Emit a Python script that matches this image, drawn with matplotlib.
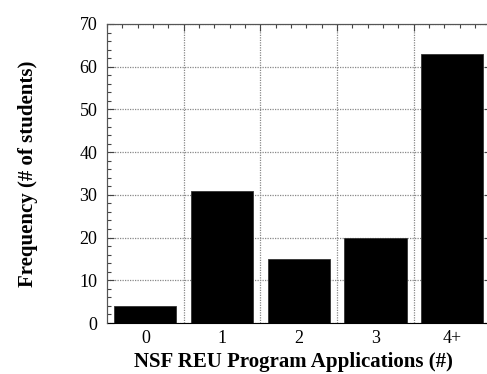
import matplotlib.pyplot as plt
from matplotlib.ticker import MultipleLocator, FixedLocator

# applications submitted per student
categories = ["0", "1", "2", "3", "4+"]
counts = [4, 31, 15, 20, 63]

plt.rcParams["font.family"] = ["Liberation Serif", "DejaVu Serif"]

fig = plt.figure(figsize=(4.87, 3.74), dpi=100)
ax = fig.add_axes([107 / 487, 51 / 374, 383.5 / 487, 299 / 374])

x = list(range(len(categories)))
ax.bar(x, counts, width=0.81, color="black", edgecolor="#333333", linewidth=0.6, zorder=3)

ax.set_xlim(-0.5, 4.5)
ax.set_ylim(0, 70)

# dotted grid: between categories and every 10 students
ax.set_xticks(x)
ax.set_xticklabels(categories, fontsize=13)
ax.xaxis.set_minor_locator(FixedLocator([0.5, 1.5, 2.5, 3.5]))
ax.tick_params(axis="x", which="both", length=0, pad=5)
ax.grid(True, which="minor", axis="x", color="#888888", linestyle=(0, (1, 1)), linewidth=0.9, zorder=0)
ax.yaxis.set_major_locator(MultipleLocator(10))
ax.yaxis.set_minor_locator(MultipleLocator(2))
ax.grid(True, which="major", axis="y", color="#888888", linestyle=(0, (1, 1)), linewidth=0.9, zorder=0)
ax.tick_params(axis="y", which="major", direction="in", length=5, width=0.8, right=True,
               labelsize=13, pad=7, color="#444444")
ax.tick_params(axis="y", which="minor", direction="in", length=3, width=0.8, right=True,
               color="#444444")

# top axis carries fine ticks only
top = ax.twiny()
top.set_xlim(ax.get_xlim())
top.xaxis.set_major_locator(FixedLocator([0.5, 1.5, 2.5, 3.5]))
top.xaxis.set_minor_locator(MultipleLocator(0.2, offset=0.1))
top.tick_params(axis="x", which="major", direction="in", length=5, width=0.8, labeltop=False,
                color="#444444")
top.tick_params(axis="x", which="minor", direction="in", length=3, width=0.8, color="#444444")

for sp in ("top", "left", "right"):
    ax.spines[sp].set_color("#555555")
    top.spines[sp].set_color("#555555")
ax.spines["bottom"].set_color("black")
top.spines["bottom"].set_visible(False)

ax.set_xlabel("NSF REU Program Applications (#)", fontsize=15, fontweight="bold",
              labelpad=4, x=0.487)
ax.set_ylabel("Frequency (# of students)", fontsize=15, fontweight="bold", labelpad=30)

fig.savefig("out.png", dpi=100)
